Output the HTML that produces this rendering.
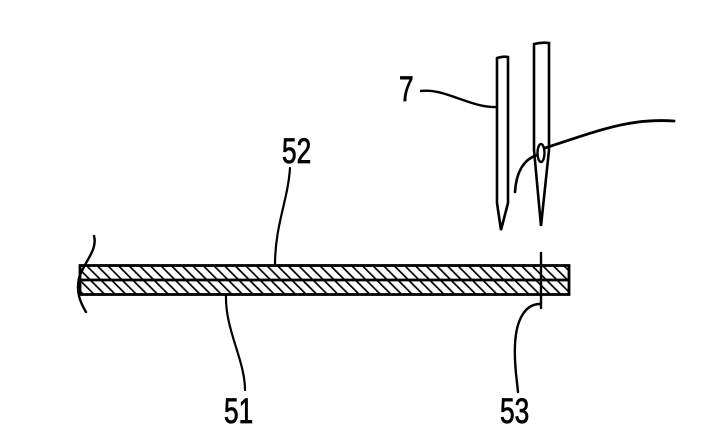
<!DOCTYPE html>
<html><head><meta charset="utf-8"><style>
html,body{margin:0;padding:0;background:#fff;}
svg{display:block;}
text{font-family:"Liberation Sans",sans-serif;font-size:35px;fill:#000;stroke:#000;stroke-width:0.8;}
</style></head><body>
<svg width="703" height="437" viewBox="0 0 703 437" xmlns="http://www.w3.org/2000/svg">
<defs>
<pattern id="h" patternUnits="userSpaceOnUse" width="7.5" height="7.5" patternTransform="rotate(-45)">
<rect width="7.5" height="7.5" fill="#fff"/>
<line x1="0" y1="0" x2="0" y2="7.5" stroke="#000" stroke-width="3.4"/>
</pattern>
</defs>
<g fill="none" stroke="#000" stroke-linecap="round">
<!-- band -->
<rect x="80" y="265.5" width="489" height="29" fill="url(#h)" stroke="none"/>
<rect x="80" y="265.5" width="489" height="29" stroke-width="2.8"/>
<line x1="80" y1="280" x2="569" y2="280" stroke-width="2.8"/>
<path d="M94 236 C98 250 84 262 79 278 C76 292 80 302 86 312" stroke-width="2.4"/>
<!-- left needle -->
<path d="M497 58 L497 203 L501 230 L508 203 L508 57 Q503 56 497 58" stroke-width="2.6" fill="#fff"/>
<!-- right needle -->
<path d="M534 44 L534 150 L541 226 L549 150 L549 43 Q542 42 534 44" stroke-width="2.6" fill="#fff"/>
<ellipse cx="541" cy="153" rx="3.5" ry="9" stroke-width="2.4"/>
<!-- thread -->
<path d="M674 121 C630 118 600 130 545 148" stroke-width="2.8"/>
<path d="M537 155 C522 160 516 175 515 192" stroke-width="2.6"/>
<!-- 53 line -->
<line x1="541" y1="253" x2="541" y2="308" stroke-width="2.4"/>
<path d="M540 304 C525 304 516 320 515 345 C514 365 517 380 518 392" stroke-width="2.4"/>
<!-- leaders -->
<path d="M421 91 C445 88 470 108 497 107" stroke-width="2.4"/>
<path d="M290 168 C288 200 275 225 275 265" stroke-width="2.2"/>
<path d="M226 295 C225 330 245 360 245 390" stroke-width="2.2"/>
</g>
<text x="399" y="101" transform="translate(399 0) scale(0.75 1) translate(-399 0)">7</text>
<text x="282" y="163" transform="translate(282 0) scale(0.75 1) translate(-282 0)">52</text>
<text x="224" y="423" transform="translate(224 0) scale(0.75 1) translate(-224 0)">51</text>
<text x="500" y="423" transform="translate(500 0) scale(0.75 1) translate(-500 0)">53</text>
</svg>
</body></html>
